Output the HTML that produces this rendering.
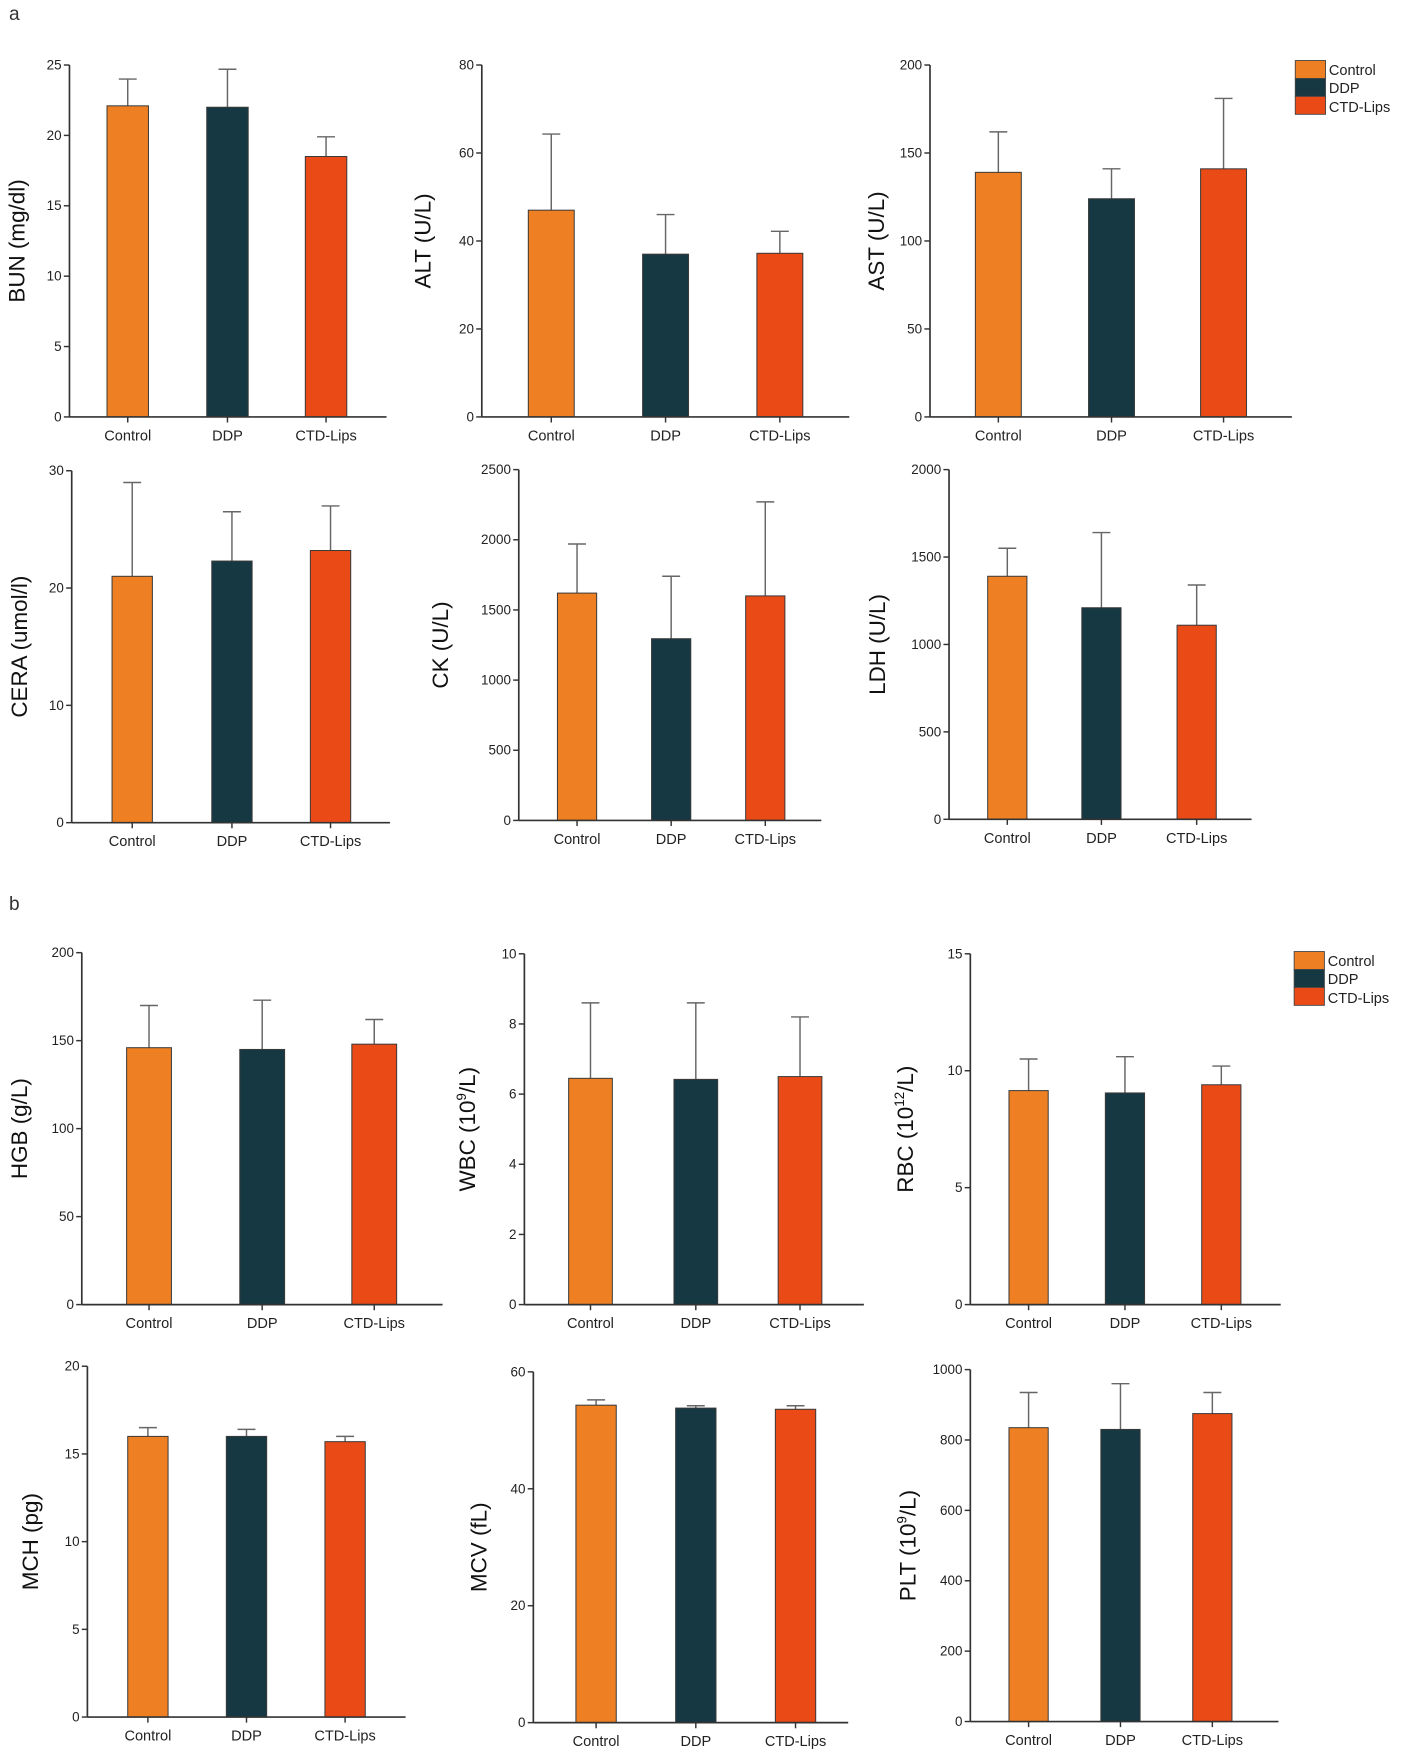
<!DOCTYPE html>
<html><head><meta charset="utf-8"><style>
html,body{margin:0;padding:0;background:#fff;}
svg{display:block;font-family:"Liberation Sans",Arial,sans-serif;}
</style></head><body>
<svg id="fig" width="1423" height="1763" viewBox="0 0 1270 1573" preserveAspectRatio="none" xmlns="http://www.w3.org/2000/svg">
<rect width="1270" height="1573" fill="#fff"/>
<text x="8" y="18" font-size="17" fill="#333">a</text>
<text x="8" y="812" font-size="17" fill="#333">b</text>
<g>
<rect x="1156" y="54" width="27" height="16" fill="#EE7F22" stroke="#444" stroke-width="0.8"/>
<rect x="1156" y="70" width="27" height="16" fill="#163842" stroke="#444" stroke-width="0.8"/>
<rect x="1156" y="86" width="27" height="16" fill="#E94A16" stroke="#444" stroke-width="0.8"/>
<text x="1186" y="67" font-size="13" fill="#222">Control</text>
<text x="1186" y="83" font-size="13" fill="#222">DDP</text>
<text x="1186" y="100" font-size="13" fill="#222">CTD-Lips</text>
</g>
<g>
<rect x="1155" y="849" width="27" height="16" fill="#EE7F22" stroke="#444" stroke-width="0.8"/>
<rect x="1155" y="865" width="27" height="16" fill="#163842" stroke="#444" stroke-width="0.8"/>
<rect x="1155" y="881" width="27" height="16" fill="#E94A16" stroke="#444" stroke-width="0.8"/>
<text x="1185" y="862" font-size="13" fill="#222">Control</text>
<text x="1185" y="878" font-size="13" fill="#222">DDP</text>
<text x="1185" y="895" font-size="13" fill="#222">CTD-Lips</text>
</g>
</svg>
<script>
const categories = ["Control", "DDP", "CTD-Lips"];
const colors = ["#EE7F22", "#163842", "#E94A16"];

const bunValues = [22.1, 22.0, 18.5];
const bunErrTops = [24.0, 24.7, 19.9];
const bunTicks = [0, 5, 10, 15, 20, 25];

const altValues = [47, 37, 37.2];
const altErrTops = [64.3, 46, 42.2];
const altTicks = [0, 20, 40, 60, 80];

const astValues = [139, 124, 141];
const astErrTops = [162, 141, 181];
const astTicks = [0, 50, 100, 150, 200];

const ceraValues = [21, 22.3, 23.2];
const ceraErrTops = [29, 26.5, 27];
const ceraTicks = [0, 10, 20, 30];

const ckValues = [1620, 1295, 1600];
const ckErrTops = [1970, 1740, 2270];
const ckTicks = [0, 500, 1000, 1500, 2000, 2500];

const ldhValues = [1390, 1210, 1110];
const ldhErrTops = [1550, 1640, 1340];
const ldhTicks = [0, 500, 1000, 1500, 2000];

const hgbValues = [146, 145, 148];
const hgbErrTops = [170, 173, 162];
const hgbTicks = [0, 50, 100, 150, 200];

const wbcValues = [6.45, 6.42, 6.5];
const wbcErrTops = [8.6, 8.6, 8.2];
const wbcTicks = [0, 2, 4, 6, 8, 10];

const rbcValues = [9.15, 9.05, 9.4];
const rbcErrTops = [10.5, 10.6, 10.2];
const rbcTicks = [0, 5, 10, 15];

const mchValues = [16.0, 16.0, 15.7];
const mchErrTops = [16.5, 16.4, 16.0];
const mchTicks = [0, 5, 10, 15, 20];

const mcvValues = [54.3, 53.8, 53.6];
const mcvErrTops = [55.2, 54.2, 54.2];
const mcvTicks = [0, 20, 40, 60];

const pltValues = [835, 830, 875];
const pltErrTops = [935, 960, 935];
const pltTicks = [0, 200, 400, 600, 800, 1000];

const NS = "http://www.w3.org/2000/svg";
const svg = document.getElementById("fig");
function mk(tag, attrs, parent) {
  const e = document.createElementNS(NS, tag);
  for (const k in attrs) e.setAttribute(k, attrs[k]);
  parent.appendChild(e);
  return e;
}

// layout: axisX, topY, zeroY, rightX, barCenters, barWidth, titleX, titleParts
const charts = [
  {id:"bun", v:bunValues, e:bunErrTops, t:bunTicks, ax:62, top:58, zero:372, right:345, cx:[114,203,291], bw:37, tx:22, title:[["BUN (mg/dl)"]]},
  {id:"alt", v:altValues, e:altErrTops, t:altTicks, ax:430, top:58, zero:372, right:758, cx:[492,594,696], bw:41, tx:384, title:[["ALT (U/L)"]]},
  {id:"ast", v:astValues, e:astErrTops, t:astTicks, ax:830, top:58, zero:372, right:1153, cx:[891,992,1092], bw:41, tx:789, title:[["AST (U/L)"]]},
  {id:"cera", v:ceraValues, e:ceraErrTops, t:ceraTicks, ax:64, top:420, zero:734, right:348, cx:[118,207,295], bw:36, tx:24, title:[["CERA (umol/l)"]]},
  {id:"ck", v:ckValues, e:ckErrTops, t:ckTicks, ax:463, top:419, zero:732, right:733, cx:[515,599,683], bw:35, tx:400, title:[["CK (U/L)"]]},
  {id:"ldh", v:ldhValues, e:ldhErrTops, t:ldhTicks, ax:847, top:419, zero:731, right:1117, cx:[899,983,1068], bw:35, tx:790, title:[["LDH (U/L)"]]},
  {id:"hgb", v:hgbValues, e:hgbErrTops, t:hgbTicks, ax:73, top:850, zero:1164, right:395, cx:[133,234,334], bw:40, tx:24, title:[["HGB (g/L)"]]},
  {id:"wbc", v:wbcValues, e:wbcErrTops, t:wbcTicks, ax:468, top:851, zero:1164, right:771, cx:[527,621,714], bw:39, tx:424, title:[["WBC (10"],["9","sup"],["/L)"]]},
  {id:"rbc", v:rbcValues, e:rbcErrTops, t:rbcTicks, ax:866, top:851, zero:1164, right:1143, cx:[918,1004,1090], bw:35, tx:815, title:[["RBC (10"],["12","sup"],["/L)"]]},
  {id:"mch", v:mchValues, e:mchErrTops, t:mchTicks, ax:78, top:1219, zero:1532, right:362, cx:[132,220,308], bw:36, tx:34, title:[["MCH (pg)"]]},
  {id:"mcv", v:mcvValues, e:mcvErrTops, t:mcvTicks, ax:476, top:1224, zero:1537, right:757, cx:[532,621,710], bw:36, tx:434, title:[["MCV (fL)"]]},
  {id:"plt", v:pltValues, e:pltErrTops, t:pltTicks, ax:866, top:1222, zero:1536, right:1141, cx:[918,1000,1082], bw:35, tx:817, title:[["PLT (10"],["9","sup"],["/L)"]]}
];

charts.forEach(c => {
  const g = mk("g", {}, svg);
  
  
  const tmax = c.t[c.t.length - 1];
  const y = val => c.zero - (val / tmax) * (c.zero - c.top);

  // bars and error bars
  c.v.forEach((val, i) => {
    const by = y(val);
    const err = mk("line", {x1:c.cx[i], x2:c.cx[i], y1:by, y2:y(c.e[i]), stroke:"#666", "stroke-width":1.3}, g);
    
    
    mk("line", {x1:c.cx[i]-8, x2:c.cx[i]+8, y1:y(c.e[i]), y2:y(c.e[i]), stroke:"#666", "stroke-width":1.3}, g);
    const r = mk("rect", {x:c.cx[i]-c.bw/2, y:by, width:c.bw, height:c.zero-by, fill:colors[i], stroke:"#3a3a3a", "stroke-width":0.9}, g);
    
    
    const lab = mk("text", {x:c.cx[i], y:c.zero+21, "font-size":13, "text-anchor":"middle", fill:"#222"}, g);
    lab.textContent = categories[i];
    
    
    mk("line", {x1:c.cx[i], x2:c.cx[i], y1:c.zero, y2:c.zero+5, stroke:"#333", "stroke-width":1.3}, g);
  });

  // axes
  const ya = mk("line", {x1:c.ax, x2:c.ax, y1:c.top, y2:c.zero, stroke:"#333", "stroke-width":1.5}, g);
  
  
  const xa = mk("line", {x1:c.ax, x2:c.right, y1:c.zero, y2:c.zero, stroke:"#333", "stroke-width":1.5}, g);
  
  

  c.t.forEach(tv => {
    const ty = y(tv);
    mk("line", {x1:c.ax-5, x2:c.ax, y1:ty, y2:ty, stroke:"#333", "stroke-width":1.3}, g);
    const tl = mk("text", {x:c.ax-7, y:ty+4, "font-size":12, "text-anchor":"end", fill:"#222"}, g);
    tl.textContent = tv;
    
    
  });

  // title
  const my = (c.top + c.zero) / 2;
  const tt = mk("text", {x:0, y:0, "font-size":20, "text-anchor":"middle", fill:"#111", transform:"translate("+c.tx+","+my+") rotate(-90)"}, g);
  
  
  c.title.forEach(p => {
    const s = mk("tspan", p[1] === "sup" ? {"font-size":12, dy:-8} : (tt.childNodes.length ? {dy:8} : {}), tt);
    s.textContent = p[0];
  });
});
</script>
</body></html>
